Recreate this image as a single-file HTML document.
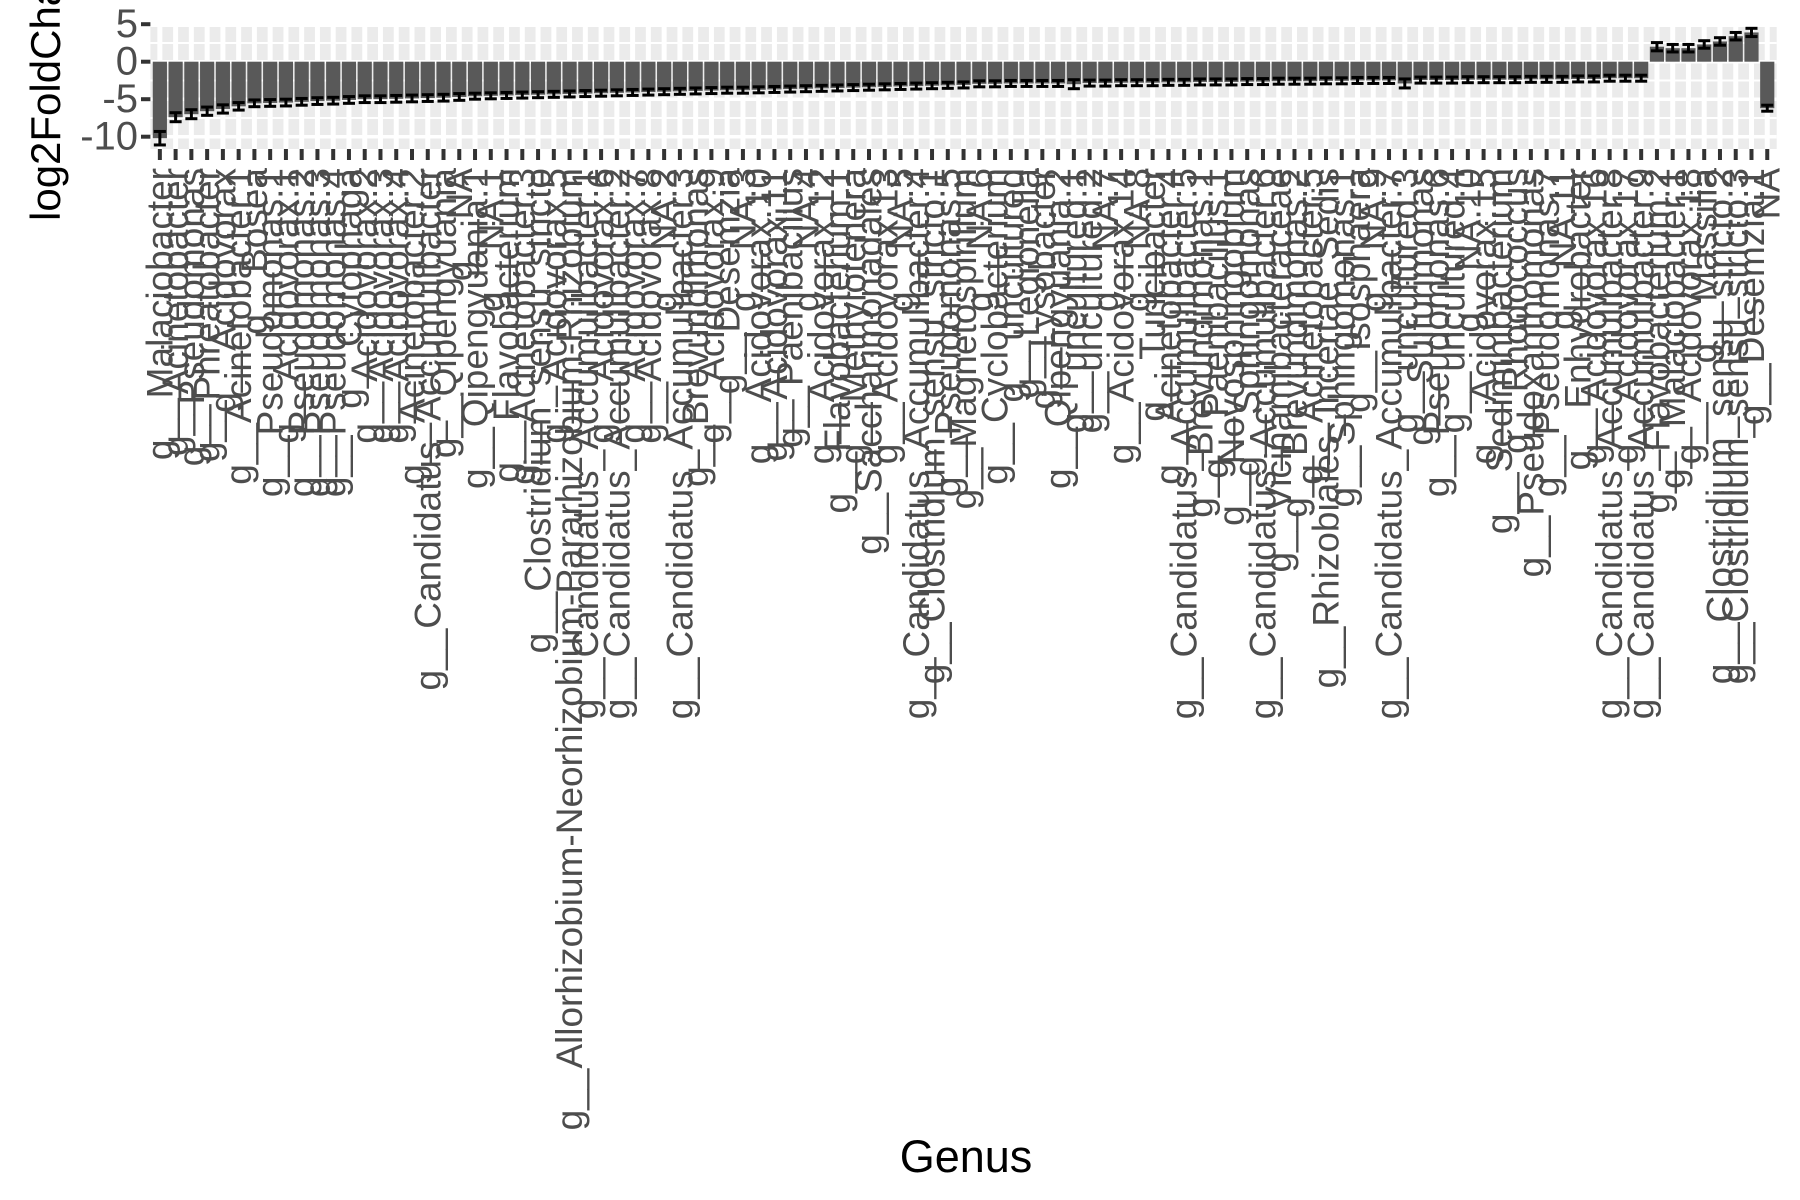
<!DOCTYPE html>
<html><head><meta charset="utf-8"><style>
html,body{margin:0;padding:0;background:#fff;}
svg{display:block;font-family:"Liberation Sans",Arial,sans-serif;}
</style></head><body>
<svg id="chart" width="1800" height="1200" viewBox="0 0 1800 1200" xmlns="http://www.w3.org/2000/svg">
<rect width="1800" height="1200" fill="#fff"/>
<g id="panel"></g>
<g id="bars"></g>
<g id="errs"></g>
<g id="yaxis"></g>
<g id="xaxis"></g>
<text transform="translate(60,221) rotate(-90)" font-size="42" fill="#000">log2FoldChange</text>
<text x="966" y="1172" text-anchor="middle" font-size="45" fill="#000">Genus</text>
</svg>
<script>
const categories = ["g__Malaciobacter","g__Acinetobacter","g__Pseudomonas","g__Phreatobacter","g__Acidovorax","g__Acinetobacter.1","g__Bosea","g__Pseudomonas.1","g__Acidovorax.1","g__Pseudomonas.2","g__Pseudomonas.3","g__Pseudomonas.4","g__Cytophaga","g__Acidovorax.2","g__Acidovorax.3","g__Acidovorax.4","g__Acinetobacter.2","g__Candidatus_Accumulibacter","g__Qipengyuania","g__NA","g__Qipengyuania.1","g__NA.1","g__Flavobacterium","g__Acinetobacter.3","g__Clostridium_sensu_stricto","g__Acidovorax.5","g__Allorhizobium-Neorhizobium-Pararhizobium-Rhizobium","g__Candidatus_Accumulibacter.1","g__Acidovorax.6","g__Candidatus_Accumulibacter.2","g__Acidovorax.7","g__Acidovorax.8","g__NA.2","g__Candidatus_Accumulibacter.3","g__Brevundimonas","g__Acidovorax.9","g__Desemzia","g__NA.3","g__Acidovorax.10","g__Acidovorax.11","g__Paenibacillus","g__NA.4","g__Acidovorax.12","g__Flavobacterium.1","g__Methylotenera","g__Saccharimonadales","g__Acidovorax.13","g__NA.5","g__Candidatus_Accumulibacter.4","g__Clostridium_sensu_stricto.1","g__Pseudomonas.5","g__Magnetospirillum","g__NA.6","g__Cyclobacterium","g__uncultured","g__Legionella","g__Lysobacter","g__Qipengyuania.2","g__uncultured.1","g__uncultured.2","g__NA.7","g__Acidovorax.14","g__NA.8","g__Turicibacter","g__Acinetobacter.4","g__Candidatus_Accumulibacter.5","g__Brevundimonas.1","g__Paenibacillus.1","g__Novosphingobium","g__Sphingomonas","g__Candidatus_Accumulibacter.6","g__Vicinamibacteraceae","g__Brevundimonas.2","g__Acinetobacter.5","g__Rhizobiales_Incertae_Sedis","g__Sphingomonas.1","g__Isosphaera","g__NA.9","g__Candidatus_Accumulibacter.7","g__uncultured.3","g__Sulfurimonas","g__Pseudomonas.6","g__uncultured.4","g__NA.10","g__Acidovorax.15","g__Sediminibacterium","g__Rhodococcus","g__Pseudoxanthomonas","g__Pseudomonas.7","g__NA.11","g__Enhydrobacter","g__Acidovorax.16","g__Candidatus_Accumulibacter.8","g__Acidovorax.17","g__Candidatus_Accumulibacter.9","g__Flavobacterium.2","g__Malaciobacter.1","g__Acidovorax.18","g__Massilia","g__Clostridium_sensu_stricto.2","g__Clostridium_sensu_stricto.3","g__Desemzia.1","NA"];
const values = [-10.2,-7.4,-7.0,-6.6,-6.3,-5.95,-5.55,-5.5,-5.45,-5.35,-5.25,-5.2,-5.1,-5.0,-5.0,-4.95,-4.9,-4.85,-4.8,-4.7,-4.6,-4.55,-4.5,-4.45,-4.4,-4.35,-4.3,-4.25,-4.2,-4.15,-4.1,-4.05,-4.0,-3.95,-3.9,-3.85,-3.8,-3.8,-3.75,-3.7,-3.65,-3.6,-3.55,-3.5,-3.45,-3.4,-3.35,-3.3,-3.25,-3.2,-3.15,-3.1,-2.95,-2.95,-2.9,-2.9,-2.9,-2.9,-3.0,-2.85,-2.85,-2.8,-2.8,-2.8,-2.75,-2.75,-2.7,-2.7,-2.7,-2.65,-2.65,-2.6,-2.6,-2.6,-2.55,-2.55,-2.5,-2.5,-2.5,-2.9,-2.45,-2.45,-2.45,-2.4,-2.4,-2.4,-2.4,-2.35,-2.35,-2.35,-2.3,-2.3,-2.2,-2.2,-2.2,2.0,1.8,1.8,2.3,2.7,3.4,3.9,-6.2];
const errors = [0.9,0.6,0.6,0.55,0.55,0.5,0.45,0.45,0.45,0.45,0.45,0.45,0.45,0.45,0.45,0.45,0.45,0.45,0.45,0.45,0.4,0.4,0.4,0.4,0.4,0.4,0.4,0.4,0.4,0.4,0.4,0.4,0.4,0.4,0.4,0.4,0.4,0.4,0.4,0.4,0.4,0.4,0.4,0.4,0.4,0.4,0.4,0.4,0.4,0.4,0.4,0.4,0.4,0.4,0.4,0.4,0.4,0.4,0.6,0.4,0.4,0.4,0.4,0.4,0.4,0.4,0.4,0.4,0.4,0.4,0.4,0.4,0.4,0.4,0.4,0.4,0.4,0.4,0.4,0.6,0.4,0.4,0.4,0.4,0.4,0.4,0.4,0.4,0.4,0.4,0.4,0.4,0.4,0.4,0.4,0.55,0.5,0.5,0.5,0.5,0.5,0.55,0.4];
const yTicks = [5,0,-5,-10];
const yTickLabels = ["5","0","-5","-10"];
const yMinor = [2.5,-2.5,-7.5];

const NS = "http://www.w3.org/2000/svg";
const PL = 150.4, PR = 1776.7, PT = 27, PB = 149;
const n = categories.length;
const step = (PR - PL) / (n - 1 + 1.2);
function xs(i){ return PL + step * (0.6 + i); }
function ys(v){ return 61.7 - v * 7.5; }
function mk(tag, attrs, parent){ const e = document.createElementNS(NS, tag); for (const k in attrs) e.setAttribute(k, attrs[k]); parent.appendChild(e); return e; }

const panel = document.getElementById('panel');
const bg = mk('rect', {x:PL, y:PT, width:PR-PL, height:PB-PT, fill:'#EBEBEB'}, panel);


yMinor.forEach(v => {
  const l = mk('line', {x1:PL, x2:PR, y1:ys(v), y2:ys(v), stroke:'#fff', 'stroke-width':2}, panel);
  
  
});
yTicks.forEach(v => {
  const l = mk('line', {x1:PL, x2:PR, y1:ys(v), y2:ys(v), stroke:'#fff', 'stroke-width':3.5}, panel);
  
  
});
categories.forEach((c, i) => {
  const l = mk('line', {x1:xs(i), x2:xs(i), y1:PT, y2:PB, stroke:'#fff', 'stroke-width':5}, panel);
  
  
});

const bars = document.getElementById('bars');
const errs = document.getElementById('errs');
const bw = step * 0.9;
values.forEach((v, i) => {
  const y0 = ys(0), y1 = ys(v);
  const r = mk('rect', {x:xs(i)-bw/2, y:Math.min(y0,y1), width:bw, height:Math.abs(y1-y0), fill:'#595959'}, bars);
  
  
  const e = errors[i], ew = bw * 0.85;
  const g = mk('g', {stroke:'#000', 'stroke-width':3}, errs);
  
  
  mk('line', {x1:xs(i), x2:xs(i), y1:ys(v+e), y2:ys(v-e)}, g);
  mk('line', {x1:xs(i)-ew/2, x2:xs(i)+ew/2, y1:ys(v+e), y2:ys(v+e)}, g);
  mk('line', {x1:xs(i)-ew/2, x2:xs(i)+ew/2, y1:ys(v-e), y2:ys(v-e)}, g);
});

const yaxis = document.getElementById('yaxis');
yTicks.forEach((v, i) => {
  const t = mk('line', {x1:141, x2:PL, y1:ys(v), y2:ys(v), stroke:'#333', 'stroke-width':4}, yaxis);
  
  
  const tx = mk('text', {x:138, y:ys(v), 'text-anchor':'end', 'dominant-baseline':'central', 'font-size':40, fill:'#4D4D4D'}, yaxis);
  tx.textContent = yTickLabels[i];
  
  
});

const xaxis = document.getElementById('xaxis');
categories.forEach((c, i) => {
  const t = mk('line', {x1:xs(i), x2:xs(i), y1:PB, y2:160, stroke:'#333', 'stroke-width':4}, xaxis);
  
  
  const tx = mk('text', {transform:'translate(' + xs(i) + ',168) rotate(-90)', 'text-anchor':'end', 'dominant-baseline':'central', 'font-size':37, fill:'#4D4D4D'}, xaxis);
  tx.textContent = c;
  
  
});
</script>
</body></html>
